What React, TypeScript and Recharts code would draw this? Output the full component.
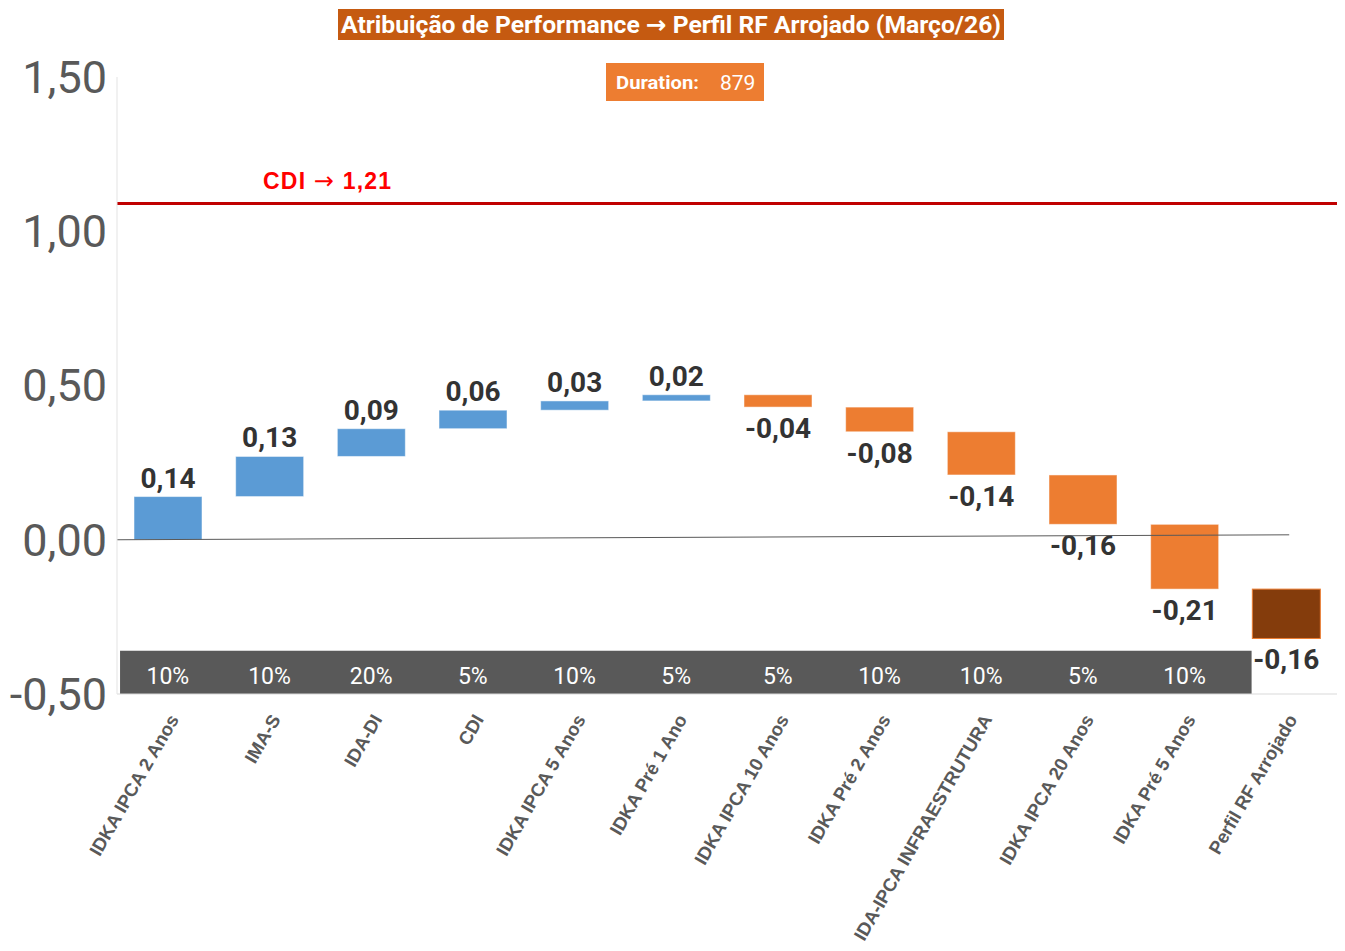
import {
  ComposedChart,
  Bar,
  Scatter,
  XAxis,
  YAxis,
  ReferenceLine,
  ReferenceArea,
} from 'recharts';

// categories, in the order they appear on the x axis
const categories = [
  'IDKA IPCA 2 Anos',
  'IMA-S',
  'IDA-DI',
  'CDI',
  'IDKA IPCA 5 Anos',
  'IDKA Pré 1 Ano',
  'IDKA IPCA 10 Anos',
  'IDKA Pré 2 Anos',
  'IDA-IPCA INFRAESTRUTURA',
  'IDKA IPCA 20 Anos',
  'IDKA Pré 5 Anos',
  'Perfil RF Arrojado',
];

// contribution of each index (last one is the portfolio total)
const contributions = [0.14, 0.13, 0.09, 0.06, 0.03, 0.02, -0.04, -0.08, -0.14, -0.16, -0.21, -0.16];

// allocation weights shown in the grey band
const weights = ['10%', '10%', '20%', '5%', '10%', '5%', '5%', '10%', '10%', '5%', '10%'];

const yTicks = [-0.5, 0, 0.5, 1, 1.5];

const cdiLineValue = 1.09;
const durationValue = '879';

const BLUE = '#5B9BD5';
const ORANGE = '#ED7D31';
const BROWN = '#843C0C';

const fmt = (v: number) => v.toFixed(2).replace('.', ',');

// build waterfall ranges
let running = 0;
const data = contributions.map((delta, i) => {
  const start = running;
  const end = start + delta;
  running = end;
  const isTotal = i === contributions.length - 1;
  return {
    x: i,
    name: categories[i],
    delta,
    range: [Math.min(start, end), Math.max(start, end)],
    fill: isTotal ? BROWN : delta >= 0 ? BLUE : ORANGE,
    isTotal,
  };
});

const bandLabels = weights.map((w, i) => ({ x: i, y: -0.44, w }));

const WaterfallBar = (props: any) => {
  const { x, y, width, height, payload } = props;
  const top = Math.min(y, y + height);
  const h = Math.abs(height);
  const cx = x + width / 2;
  const up = payload.delta >= 0;
  return (
    <g>
      <rect
        x={x}
        y={top}
        width={width}
        height={h}
        fill={payload.fill}
        stroke={payload.isTotal ? ORANGE : 'rgba(255,255,255,0.5)'}
        strokeWidth={1}
      />
      <text
        x={cx}
        y={up ? top - 9 : top + h + 10}
        dy={up ? 0 : '0.75em'}
        textAnchor="middle"
        fontFamily="Roboto"
        fontWeight={700}
        fontSize={28}
        fill="#333333"
      >
        {fmt(payload.delta)}
      </text>
    </g>
  );
};

const CategoryTick = (props: any) => {
  const { x, y, payload } = props;
  return (
    <g transform={`translate(${x + 6},${y + 14})`}>
      <text
        textAnchor="end"
        transform="rotate(-60)"
        dy="0.35em"
        style={{ fontFamily: '"Liberation Sans", Arial, sans-serif' }}
        fontWeight={700}
        fontSize={18.5}
        fill="#595959"
      >
        {categories[payload.value]}
      </text>
    </g>
  );
};

const BandText = (props: any) => {
  const { cx, cy, payload } = props;
  return (
    <text
      x={cx}
      y={cy}
      dy="0.35em"
      textAnchor="middle"
      fontFamily="Roboto"
      fontSize={23}
      fill="#ffffff"
    >
      {payload.w}
    </text>
  );
};

export default function App() {
  return (
    <div style={{ position: 'absolute', left: 0, top: 0, width: 1345, height: 951, background: '#fff' }}>
      <ComposedChart
        width={1345}
        height={951}
        data={data}
        margin={{ top: 77, right: 8, bottom: 0, left: 0 }}
      >
        <XAxis
          type="number"
          dataKey="x"
          domain={[-0.5, 11.5]}
          ticks={categories.map((_, i) => i)}
          interval={0}
          height={257}
          tickLine={false}
          axisLine={{ stroke: '#d9d9d9' }}
          tick={<CategoryTick />}
        />
        <YAxis
          type="number"
          domain={[-0.5, 1.5]}
          ticks={yTicks}
          width={117}
          tickLine={false}
          tickSize={0}
          tickMargin={10}
          axisLine={{ stroke: '#e3e3e3' }}
          tickFormatter={fmt}
          tick={{ fontFamily: 'Roboto', fontWeight: 400, fontSize: 45, fill: '#595959' }}
        />
        <ReferenceArea x1={-0.47} x2={10.66} y1={-0.5} y2={-0.36} fill="#595959" fillOpacity={1} stroke="none" />
        <ReferenceLine
          segment={[{ x: -0.5, y: 0 }, { x: 11.03, y: 0.016 }]}
          stroke="#595959"
          strokeWidth={1}
        />
        <ReferenceLine
          y={cdiLineValue}
          stroke="#C00000"
          strokeWidth={3}
          label={(p: any) => (
            <text
              x={p.viewBox.x + 146}
              y={p.viewBox.y - 23}
              dy="0.35em"
              textLength={128}
              style={{ fontFamily: '"Liberation Sans", Arial, sans-serif' }}
              fontWeight={700}
              fontSize={23}
              fill="#FF0000"
            >
              CDI{' '}
              <tspan style={{ fontFamily: '"DejaVu Sans"' }} fontWeight={400} fontSize={24}>
                →
              </tspan>{' '}
              1,21
            </text>
          )}
        />
        <Bar dataKey="range" barSize={68} shape={<WaterfallBar />} isAnimationActive={false} />
        <Scatter data={bandLabels} dataKey="y" shape={<BandText />} isAnimationActive={false} />
      </ComposedChart>
      <svg width={1345} height={110} style={{ position: 'absolute', left: 0, top: 0, pointerEvents: 'none' }}>
        <rect x={338} y={9} width={666} height={31} fill="#C55A11" />
        <text
          x={341}
          y={24.5}
          dy="0.35em"
          textLength={660}
          lengthAdjust="spacingAndGlyphs"
          fontFamily="Roboto"
          fontWeight={700}
          fontSize={24}
          fill="#ffffff"
        >
          Atribuição de Performance{' '}
          <tspan style={{ fontFamily: '"DejaVu Sans"' }} fontWeight={700}>
            →
          </tspan>{' '}
          Perfil RF Arrojado (Março/26)
        </text>
        <rect x={606} y={63} width={158} height={38} fill={ORANGE} />
        <text
          x={616}
          y={82}
          dy="0.35em"
          textLength={83}
          lengthAdjust="spacingAndGlyphs"
          fontFamily="Roboto"
          fontWeight={700}
          fontSize={19}
          fill="#ffffff"
        >
          Duration:
        </text>
        <text x={720} y={83} dy="0.35em" fontFamily="Roboto" fontSize={21} fill="#ffffff">
          {durationValue}
        </text>
      </svg>
    </div>
  );
}
